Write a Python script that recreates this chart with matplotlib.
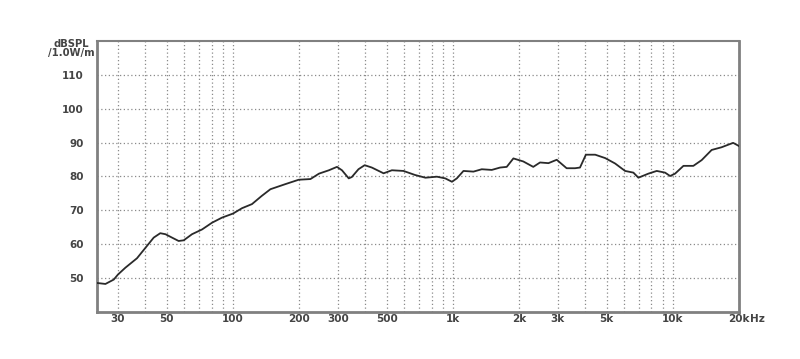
import matplotlib
matplotlib.use("Agg")
import matplotlib.pyplot as plt
from matplotlib.ticker import FixedLocator, NullFormatter

# Frequency response data
freq_hz = [24, 26.3, 28.7, 30, 32.4, 36.6, 40, 43.6, 46.7, 49.3, 52.8, 56.6, 59.7,
           65.1, 72.3, 80.3, 89.1, 100, 110, 122, 135, 148, 173, 199, 225, 246,
           273, 297, 313, 336, 347, 372, 397, 428, 484, 528, 596, 673, 750, 846,
           923, 990, 1042, 1117, 1240, 1353, 1502, 1639, 1757, 1884, 2090, 2320,
           2490, 2720, 2966, 3290, 3590, 3784, 4025, 4437, 4925, 5466, 6066, 6620,
           6975, 7743, 8452, 9224, 9720, 10240, 11180, 12400, 13530, 15020, 16670,
           18810, 19940]
spl_db = [48.5, 48.2, 49.5, 51.0, 53.0, 55.8, 58.9, 61.9, 63.2, 62.9, 61.9, 60.9, 61.1,
          62.9, 64.3, 66.3, 67.8, 69.0, 70.6, 71.8, 74.2, 76.2, 77.7, 79.0, 79.2, 80.8,
          81.8, 82.8, 81.8, 79.4, 79.8, 82.1, 83.3, 82.6, 80.9, 81.8, 81.6, 80.4, 79.6, 79.9,
          79.4, 78.4, 79.4, 81.6, 81.4, 82.1, 81.9, 82.6, 82.8, 85.3, 84.4, 82.8,
          84.1, 83.9, 84.9, 82.4, 82.4, 82.6, 86.4, 86.4, 85.4, 83.8, 81.6, 81.1,
          79.6, 80.8, 81.6, 81.1, 80.1, 80.8, 83.1, 83.1, 84.8, 87.8, 88.6,
          89.9, 89.0]

x_ticks = [30, 50, 100, 200, 300, 500, 1000, 2000, 3000, 5000, 10000, 20000]
x_labels = ["30", "50", "100", "200", "300", "500", "1k", "2k", "3k", "5k", "10k", "20k"]
x_grid = [30, 40, 50, 60, 70, 80, 90, 100, 200, 300, 400, 500, 600, 700, 800, 900,
          1000, 2000, 3000, 4000, 5000, 6000, 7000, 8000, 9000, 10000, 20000]
y_ticks = [50, 60, 70, 80, 90, 100, 110]

fig = plt.figure(figsize=(8, 3.59), dpi=100)
ax = fig.add_axes([96.7 / 800, 1 - 311.7 / 359, (739 - 96.7) / 800, (311.7 - 41) / 359])
ax.set_xscale("log")
ax.set_xlim(24, 20000)
ax.set_ylim(40, 120)

ax.plot(freq_hz, spl_db, color="#2a2a2a", lw=1.3, zorder=3)

ax.xaxis.set_major_locator(FixedLocator(x_ticks))
ax.set_xticklabels(x_labels)
ax.xaxis.set_minor_locator(FixedLocator([]))
ax.xaxis.set_minor_formatter(NullFormatter())
ax.set_yticks(y_ticks)
ax.set_yticklabels([str(v) for v in y_ticks])

for g in x_grid:
    ax.axvline(g, color="#8a8a8a", lw=0.9, ls=(0, (1, 2)), zorder=1)
for g in y_ticks:
    ax.axhline(g, color="#8a8a8a", lw=0.9, ls=(0, (1, 2)), zorder=1)

ax.tick_params(axis="both", length=0, labelsize=7.5, colors="#333333")
ax.tick_params(axis="y", pad=9.5)
ax.tick_params(axis="x", pad=2)
for lab in ax.get_xticklabels() + ax.get_yticklabels():
    lab.set_fontweight("bold")
    lab.set_color("#444444")

for side in ["left", "top", "right", "bottom"]:
    ax.spines[side].set_color("#808080")
ax.spines["left"].set_linewidth(2)
ax.spines["top"].set_linewidth(1.5)
ax.spines["right"].set_linewidth(2)
ax.spines["bottom"].set_linewidth(2)

fig.text(71 / 800, 1 - 44 / 359, "dBSPL", ha="center", va="center", fontsize=7.2,
         color="#444444", fontweight="bold")
fig.text(71 / 800, 1 - 53 / 359, "/1.0W/m", ha="center", va="center", fontsize=7.2,
         color="#444444", fontweight="bold")
fig.text(750 / 800, 1 - 314.5 / 359, "Hz", ha="left", va="top", fontsize=7.5,
         color="#444444", fontweight="bold")

fig.savefig("out.png", dpi=100, facecolor="white")
